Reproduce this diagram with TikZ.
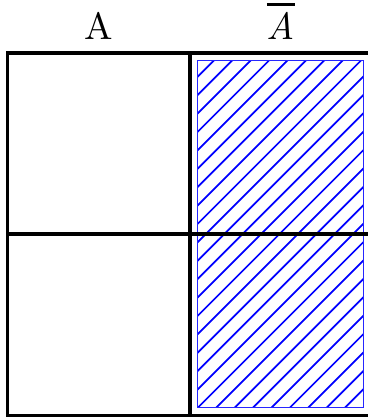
\documentclass[tikz,border=0pt]{standalone}
\font\bigrm="[lmroman10-regular]" at 38bp
\font\bigit="[lmroman10-italic]" at 38bp
\begin{document}
\begin{tikzpicture}[x=1bp,y=1bp,
  grid/.style={line width=3.5bp,black},
  hatchbox/.style={draw=blue!85,line width=1bp},
  hatchline/.style={blue,line width=1.7bp},
  lbl/.style={anchor=base,inner sep=0pt}]
\useasboundingbox (0,0) rectangle (368,417);
\begin{scope}
\clip (0,0) rectangle (368,417);
% hatching
\begin{scope}
\clip (197.3,9.7) rectangle (363.5,356.5);
\foreach \k in {-1,...,28}{
  \draw[hatchline] (190,{190+142.7-18.4*\k}) -- (370,{370+142.7-18.4*\k});
}
\end{scope}
\node[hatchbox,minimum width=166.2bp,minimum height=346.8bp,inner sep=0pt] (hb) at (280.4,183.1) {};
% grid
\coordinate (tl) at (7.5,364);
\coordinate (br) at (372.5,1.5);
\coordinate (tm) at (190,364);
\coordinate (bm) at (190,1.5);
\coordinate (ml) at (7.5,183);
\coordinate (mr) at (372.5,183);
\draw[grid] (tl) rectangle (br);
\draw[grid] (tm) -- (bm);
\draw[grid] (ml) -- (mr);
\end{scope}
\node[lbl] (a) at (99,378) {\bigrm A};
\node[lbl] (abar) at (281,378) {\vbox{\hrule height 2.3bp\kern 6bp\hbox{\bigit A}}};
\end{tikzpicture}
\end{document}
